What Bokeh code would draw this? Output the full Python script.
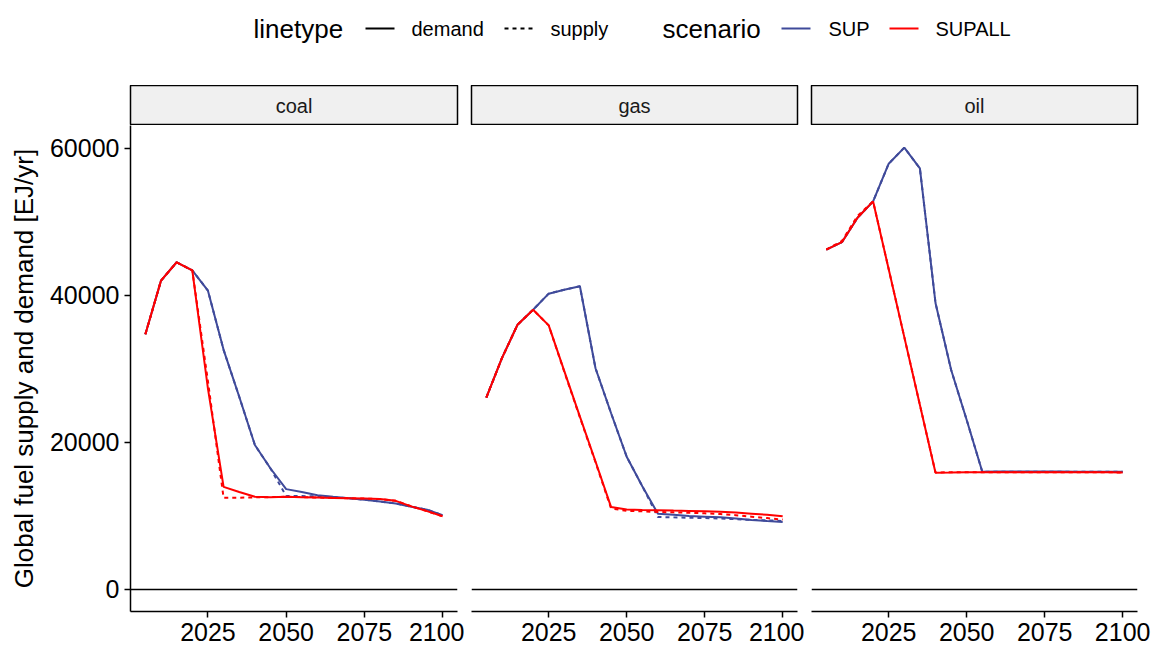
from bokeh.plotting import figure
from bokeh.layouts import row, column
from bokeh.models import Range1d, FixedTicker, NumeralTickFormatter, Span
from bokeh.core.properties import value
from bokeh.embed import file_html
from bokeh.resources import INLINE

# ---- data -----------------------------------------------------------------
years = list(range(2005, 2101, 5))
fuels = ["coal", "gas", "oil"]
scenarios = ["SUP", "SUPALL"]
linetypes = ["demand", "supply"]
x_ticks = [2025, 2050, 2075, 2100]
y_ticks = [0, 20000, 40000, 60000]

coal_sup_demand = [34700, 42000, 44500, 43400, 40640, 32590, 26200, 19640, 16450, 13640,
                   13250, 12820, 12600, 12400, 12200, 11950, 11700, 11250, 10850, 10100]
coal_sup_supply = [34700, 42000, 44500, 43400, 40640, 32590, 26200, 19640, 16450, 12700,
                   12700, 12650, 12550, 12400, 12200, 11950, 11700, 11250, 10850, 10100]
coal_supall_demand = [34700, 42000, 44500, 43400, 27300, 13950, 13250, 12600, 12550, 12600,
                      12550, 12500, 12450, 12400, 12350, 12300, 12050, 11300, 10650, 9950]
coal_supall_supply = [34700, 42000, 44500, 43400, 28300, 12450, 12480, 12520, 12550, 12600,
                      12550, 12500, 12450, 12400, 12350, 12300, 12050, 11300, 10650, 9950]

gas_sup_demand = [26090, 31460, 36000, 38050, 40230, 40770, 41230, 30090, 23960, 18050,
                  14040, 10300, 10150, 10000, 9900, 9800, 9650, 9450, 9300, 9180]
gas_sup_supply = [26090, 31460, 36000, 38050, 40230, 40770, 41230, 30090, 23960, 18050,
                  14040, 9860, 9800, 9750, 9700, 9650, 9550, 9450, 9400, 9300]
gas_supall_demand = [26090, 31460, 36000, 38050, 35910, 29700, 23500, 17400, 11200, 10870,
                     10800, 10770, 10720, 10680, 10620, 10550, 10450, 10300, 10150, 9950]
gas_supall_supply = [26090, 31460, 36000, 38050, 35910, 29600, 23400, 17300, 11000, 10700,
                     10620, 10540, 10480, 10420, 10350, 10250, 10100, 9900, 9700, 9500]

oil_sup_demand = [46230, 47230, 50550, 52780, 57910, 60100, 57270, 38960, 29870, 23050,
                  16000, 16050, 16050, 16050, 16050, 16050, 16000, 16000, 16000, 16000]
oil_sup_supply = [46230, 47230, 50550, 52780, 57910, 60100, 57270, 38960, 29870, 23050,
                  16000, 16000, 16000, 16000, 16000, 16000, 16000, 16000, 16000, 16000]
oil_supall_demand = [46230, 47230, 50550, 52780, 43550, 34320, 25090, 15860, 15900, 15950,
                     15950, 15950, 15950, 15950, 15950, 15950, 15950, 15950, 15950, 15900]
oil_supall_supply = [46230, 47400, 50800, 52780, 43550, 34320, 25090, 15900, 15950, 15950,
                     15950, 15950, 15950, 15950, 15950, 15950, 15950, 15950, 15950, 15900]

series = {
    "coal": {("SUP", "demand"): coal_sup_demand, ("SUP", "supply"): coal_sup_supply,
             ("SUPALL", "demand"): coal_supall_demand, ("SUPALL", "supply"): coal_supall_supply},
    "gas": {("SUP", "demand"): gas_sup_demand, ("SUP", "supply"): gas_sup_supply,
            ("SUPALL", "demand"): gas_supall_demand, ("SUPALL", "supply"): gas_supall_supply},
    "oil": {("SUP", "demand"): oil_sup_demand, ("SUP", "supply"): oil_sup_supply,
            ("SUPALL", "demand"): oil_supall_demand, ("SUPALL", "supply"): oil_supall_supply},
}

# ---- styling --------------------------------------------------------------
FONT = value("Liberation Sans")
colors = {"SUP": "#3F4A9A", "SUPALL": "#FF0000"}
dashes = {"demand": "solid", "supply": "4 4"}
LW = 2.0

# shared scales with 5% padding, as in the usual facet layout
x_lo, x_hi = min(years), max(years)
x_pad = 0.05 * (x_hi - x_lo)
all_vals = [v for f in series.values() for s in f.values() for v in s] + [0]
y_lo, y_hi = min(all_vals), max(all_vals)
y_pad = 0.05 * (y_hi - y_lo)

FRAME_H = 486
STRIP_H = 40
LEGEND_H = 85


def borders(i):
    left = 130 if i == 0 else 7
    right = 18 if i == len(fuels) - 1 else 7
    fw = 327 if i == 0 else 326
    return left, right, fw


def strip(i, fuel):
    left, right, fw = borders(i)
    s = figure(frame_width=fw, frame_height=STRIP_H, x_range=Range1d(0, 1), y_range=Range1d(0, 1),
               min_border_left=left, min_border_right=right, min_border_top=0, min_border_bottom=0,
               x_axis_location=None, y_axis_location=None, toolbar_location=None,
               output_backend="svg")
    s.background_fill_color = "#F0F0F0"
    s.outline_line_color = "black"
    s.outline_line_width = 1.5
    s.xgrid.visible = False
    s.ygrid.visible = False
    s.text(x=[0.5], y=[0.5], text=[fuel], text_font=FONT, text_font_size="20px",
           text_color="#1A1A1A", text_align="center", text_baseline="middle")
    return s


def panel(i, fuel):
    left, right, fw = borders(i)
    p = figure(frame_width=fw, frame_height=FRAME_H,
               x_range=Range1d(x_lo - x_pad, x_hi + x_pad),
               y_range=Range1d(y_lo - y_pad, y_hi + y_pad),
               min_border_left=left, min_border_right=right, min_border_top=0, min_border_bottom=35,
               x_axis_location="below", y_axis_location="left" if i == 0 else None,
               toolbar_location=None, output_backend="svg")
    p.outline_line_color = None
    p.xgrid.visible = False
    p.ygrid.visible = False
    p.background_fill_color = "white"

    p.add_layout(Span(location=0, dimension="width", line_color="black", line_width=1.5))

    for scen in scenarios:
        for lt in linetypes:
            p.line(years, series[fuel][(scen, lt)], line_color=colors[scen],
                   line_width=LW, line_dash=dashes[lt])

    axes = [p.xaxis[0]] + ([p.yaxis[0]] if i == 0 else [])
    for ax in axes:
        ax.minor_tick_line_color = None
        ax.major_tick_in = 0
        ax.major_tick_out = 6
        ax.axis_line_color = "black"
        ax.axis_line_width = 1.5
        ax.major_tick_line_color = "black"
        ax.major_tick_line_width = 1.5
        ax.major_label_text_font = "Liberation Sans"
        ax.major_label_text_font_size = "25px"
        ax.major_label_text_color = "black"
        ax.major_label_standoff = 5
    p.xaxis[0].ticker = FixedTicker(ticks=x_ticks)
    if i == 0:
        ya = p.yaxis[0]
        ya.ticker = FixedTicker(ticks=y_ticks)
        ya.formatter = NumeralTickFormatter(format="0")
        ya.axis_label = "Global fuel supply and demand [EJ/yr]"
        ya.axis_label_text_font = "Liberation Sans"
        ya.axis_label_text_font_size = "26px"
        ya.axis_label_text_font_style = "normal"
        ya.axis_label_text_color = "black"
        ya.axis_label_standoff = 8
    return p


# ---- legend strip across the top -------------------------------------------
leg = figure(frame_width=1155, frame_height=LEGEND_H, x_range=Range1d(0, 1155),
             y_range=Range1d(0, LEGEND_H), min_border=0, x_axis_location=None,
             y_axis_location=None, toolbar_location=None, output_backend="svg")
leg.outline_line_color = None
leg.xgrid.visible = False
leg.ygrid.visible = False
ly = LEGEND_H - 28

leg.text(x=[253, 662], y=[ly, ly], text=["linetype", "scenario"], text_font=FONT,
         text_font_size="26px", text_color="black", text_baseline="middle")
# linetype keys
leg.segment(x0=[365], y0=[ly], x1=[394], y1=[ly], line_color="black", line_width=LW)
leg.segment(x0=[504], y0=[ly], x1=[533], y1=[ly], line_color="black", line_width=LW, line_dash="4 4")
# scenario keys
leg.segment(x0=[781], y0=[ly], x1=[810], y1=[ly], line_color=colors["SUP"], line_width=LW)
leg.segment(x0=[889], y0=[ly], x1=[918], y1=[ly], line_color=colors["SUPALL"], line_width=LW)
leg.text(x=[411, 550, 828, 935], y=[ly] * 4, text=linetypes + scenarios, text_font=FONT,
         text_font_size="20px", text_color="black", text_baseline="middle")

cols = [column(strip(i, f), panel(i, f)) for i, f in enumerate(fuels)]
layout = column(leg, row(*cols))

open("out.html", "w").write(file_html(layout, INLINE))
